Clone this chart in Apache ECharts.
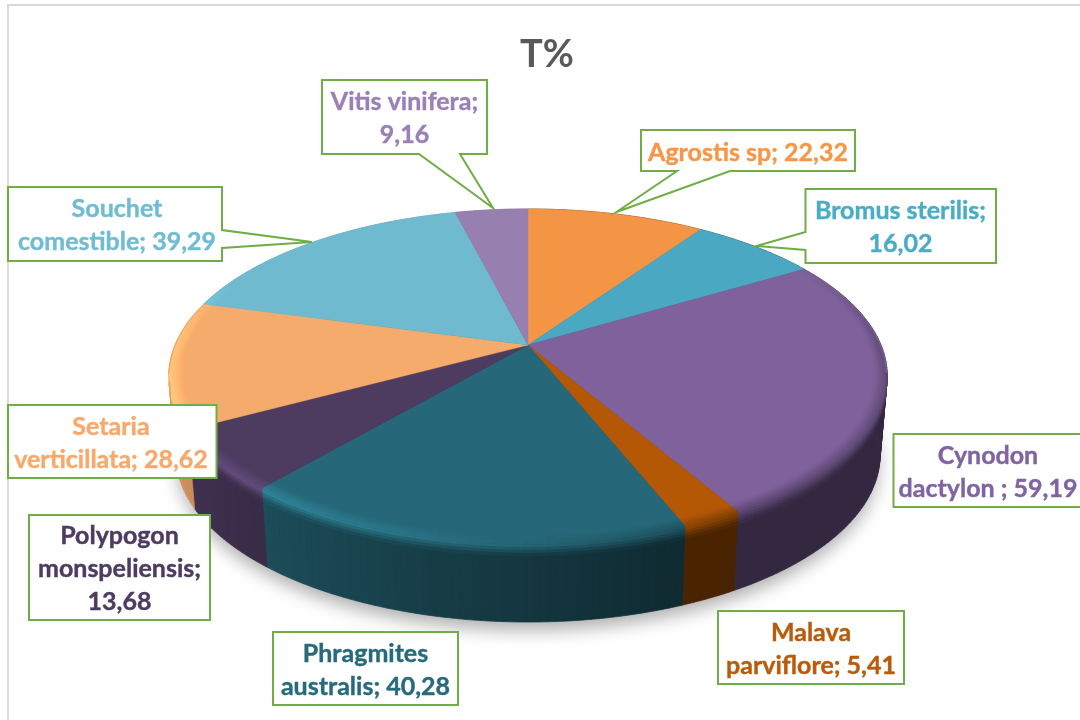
<!DOCTYPE html>
<html><head><meta charset="utf-8">
<style>html,body{margin:0;padding:0;background:#fff}#c{width:1080px;height:720px}</style>
<script src="https://cdn.jsdelivr.net/npm/echarts@6/dist/echarts.min.js"></script>
</head><body><div id="c"></div>
<script>
// ---- data ----
const categories = ['Agrostis sp','Bromus sterilis','Cynodon\ndactylon ','Malava\nparviflore','Phragmites\naustralis','Polypogon\nmonspeliensis','Setaria\nverticillata','Souchet\ncomestible','Vitis vinifera'];
const values = [22.32,16.02,59.19,5.41,40.28,13.68,28.62,39.29,9.16];
const valueBreak = [' ','\n',' ',' ',' ','\n',' ',' ','\n'];
const title = 'T%';
// ---- styles ----
const faceColors = ['#f39545','#4aa8c3','#7f629c','#b55806','#266879','#4d3b60','#f5ab6b','#70bad0','#977fb0'];
const textColors = ['#f79646','#4bacc6','#8064a2','#b85c0a','#276a7c','#4d3b62','#f9a86a','#70bcd2','#9a80b5'];
// ---- layout: [x0,y0,x1,y1, side, base a, base b, tipX, tipY] ----
const boxes = [
 [641,130,855,171,'b',677,730,616.5,212],
 [805.5,189,996,263,'l',232,250,756.5,246],
 [893.5,434,1100,507],
 [718,611,904,684],
 [273,632,458,705],
 [29,515,210,620],
 [8,405,216.5,478],
 [8,187,222,261,'r',230,248,312,242],
 [322,80,487,154,'b',419,460,493,208]
];
const textPos = [[748,153],[900.5,227],[988,472],[811,649],[365.5,670],[119.5,569],[111,443],[117,225.5],[404.5,118.5]];
const P = {cx:528, cy:345, A:353, B:161.3, k:0.1856, depth:79, narrow:0.02};
function proj(deg,r,d){
  const t=deg*Math.PI/180,u=r*Math.sin(t),v=r*Math.cos(t),w=1+P.k*v,s=1-P.narrow*d/P.depth;
  return [P.cx+P.A*s*u/w, P.cy-P.B*v/w+d];
}
const total = values.reduce((a,b)=>a+b,0);
const starts=[]; {let c=0; values.forEach(v=>{starts.push(c/total*360); c+=v;});}
const ends = starts.map((s,i)=>s+values[i]/total*360);
const rgb=h=>[1,3,5].map(i=>parseInt(h.substr(i,2),16));
const mix=(a,b,t)=>a.map((x,i)=>x+(b[i]-x)*t);
const css=c=>'rgb('+c.map(x=>Math.round(Math.min(255,x))).join(',')+')';
const lumStops=[[0,.41],[160,.41],[220,.74],[240,.83],[270,.92],[360,.92]];
function lum(t){for(let i=1;i<lumStops.length;i++){if(t<=lumStops[i][0]){const a=lumStops[i-1],b=lumStops[i];return a[1]+(b[1]-a[1])*(t-a[0])/(b[0]-a[0]);}}return .9;}
const clamp=x=>Math.max(0,Math.min(1,x));
function hiAmt(t){ return t<150?0 : t<225?(t-150)/75 : t<285?1-(t-225)/60*0.35 : 0.65*clamp((300-t)/15); }
function segs(a,b,step){const n=Math.max(1,Math.ceil((b-a)/step)),o=[];for(let i=0;i<n;i++)o.push([a+(b-a)*i/n,a+(b-a)*(i+1)/n]);return o;}
function quad(p,color){return {type:'polygon',shape:{points:p},style:{fill:color,stroke:color,lineWidth:.7}};}
const wallVisible=t=>t>100&&t<260;

function renderWalls(params){
  const i=params.dataIndex,ch=[],base=rgb(faceColors[i]);
  if(i===0){
    const pts=[];for(let t=0;t<360;t+=2)pts.push(proj(t,.995,P.depth));
    ch.push({type:'polygon',shape:{points:pts},style:{fill:'#333',shadowBlur:18,shadowColor:'rgba(0,0,0,.33)',shadowOffsetY:9}});
  }
  segs(starts[i],ends[i],1).forEach(([a,b])=>{
    const col=css(base.map(x=>x*lum((a+b)/2)));
    ch.push(quad([proj(a,1,0),proj(b,1,0),proj(b,1,P.depth),proj(a,1,P.depth)],col));
  });
  return {type:'group',children:ch};
}
function renderFace(params){
  const i=params.dataIndex,pts=[[P.cx,P.cy]];
  const n=Math.ceil((ends[i]-starts[i])/1.5);
  for(let j=0;j<=n;j++)pts.push(proj(starts[i]+(ends[i]-starts[i])*j/n,1,0));
  return {type:'polygon',shape:{points:pts},style:{fill:faceColors[i],stroke:faceColors[i],lineWidth:.5}};
}
function stripGeom(s){return s<.5?[.965+.07*s,0]:[1,(s-.5)*2*13];}
function renderBevel(params){
  const i=params.dataIndex,ch=[],face=rgb(faceColors[i]),S=9;
  segs(starts[i],ends[i],1.5).forEach(([a,b])=>{
    const m=(a+b)/2,v=Math.cos(m*Math.PI/180),str=clamp((.55-v)/.55);
    if(str<=0)return;
    const wall=face.map(x=>x*lum(m)),hi=mix(mix(face,wall,.5),face.map(x=>x*1.3),hiAmt(m));
    for(let k=0;k<S;k++){
      const s0=k/S,s1=(k+1)/S,sm=(s0+s1)/2;
      if(s1>.5&&!wallVisible(m))continue;
      const raw=sm<.6?mix(face,hi,sm/.6):mix(hi,wall,(sm-.6)/.4);
      const ref=sm<.5?face:wall;
      const col=css(mix(ref,raw,str));
      const g0=stripGeom(s0),g1=stripGeom(s1);
      ch.push(quad([proj(a,g0[0],g0[1]),proj(b,g0[0],g0[1]),proj(b,g1[0],g1[1]),proj(a,g1[0],g1[1])],col));
    }
  });
  return {type:'group',children:ch};
}
function labelText(i){return categories[i]+';'+valueBreak[i]+values[i].toFixed(2).replace('.',',');}
function renderLabel(params){
  const i=params.dataIndex,[x0,y0,x1,y1,side,a,b,tx,ty]=boxes[i];
  let pts;
  if(side==='b')pts=[[x0,y0],[x1,y0],[x1,y1],[b,y1],[tx,ty],[a,y1],[x0,y1]];
  else if(side==='l')pts=[[x0,y0],[x1,y0],[x1,y1],[x0,y1],[x0,b],[tx,ty],[x0,a]];
  else if(side==='r')pts=[[x0,y0],[x1,y0],[x1,a],[tx,ty],[x1,b],[x1,y1],[x0,y1]];
  else pts=[[x0,y0],[x1,y0],[x1,y1],[x0,y1]];
  return {type:'group',children:[
    {type:'polygon',shape:{points:pts},style:{fill:'#fff',stroke:'#70ad47',lineWidth:2}},
    {type:'text',style:{text:labelText(i),x:textPos[i][0],y:textPos[i][1],fill:textColors[i],stroke:textColors[i],lineWidth:.4,align:'center',verticalAlign:'middle',
      font:'bold 25px Lato, "Open Sans", sans-serif',lineHeight:33}}
  ]};
}
const data=values.map(v=>[v]);
const chart=echarts.init(document.getElementById('c'),null,{renderer:'canvas'});
chart.setOption({
  animation:false,backgroundColor:'#fff',
  title:{text:title,left:542,top:31,textAlign:'center',textStyle:{color:'#595959',fontSize:38,fontWeight:'bold',fontFamily:'Lato, sans-serif'}},
  graphic:[{type:'rect',z:-1,shape:{x:8,y:5,width:1300,height:1000},style:{fill:'none',stroke:'#d9d9d9',lineWidth:2}}],
  series:[
    {type:'custom',coordinateSystem:'none',silent:true,z:2,renderItem:renderWalls,data:data},
    {type:'custom',coordinateSystem:'none',silent:true,z:3,renderItem:renderFace,data:data},
    {type:'custom',coordinateSystem:'none',silent:true,z:4,renderItem:renderBevel,data:data},
    {type:'custom',coordinateSystem:'none',silent:true,z:5,renderItem:renderLabel,data:data}
  ]
});
</script></body></html>
